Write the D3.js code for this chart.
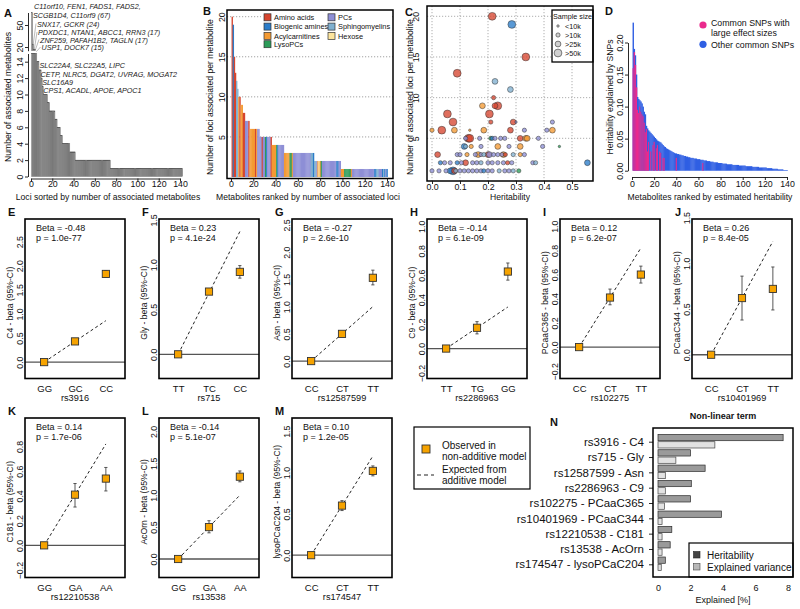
<!DOCTYPE html>
<html><head><meta charset="utf-8">
<script src="https://cdn.jsdelivr.net/npm/d3@7"></script>
<style>body{margin:0;background:#fff}svg{display:block}</style>
</head><body><svg id="c" width="800" height="609"></svg>
<script>
// ---------------- DATA ----------------
// Panel A: number of associated metabolites per locus (sorted)
const aCounts = [67,24,17,17,15,14,14,13,13,12,11,10,10,10,10,9,9,8,8,8,8,8,7,7,6,6,6,5,5,4,4,4,4,4,4,4,3,3,3,3,3,
2,2,2,2,2,2,2,2,2,2,2,
2,2,2,2,2,2,2,2,2,2,2,
2,2,2,2,2,2,2,2,2,2,2,
1,1,1,1,1,1,1,1,1,1,1,1,1,1,1,1,1,
1,1,1,1,1,1,1,1,1,1,1,1,1,1,1,1,1,
1,1,1,1,1,1,1,1,1,1,1,1,1,1,1,1,1,
1,1,1,1,1,1,1,1,1,1,1,1,1,1,1,1,1];
const aUpperLabels = ["C11orf10, FEN1, FADS1, FADS2,","SCGB1D4, C11orf9 (67)","SNX17, GCKR (24)","PDXDC1, NTAN1, ABCC1, RRN3 (17)","ZNF259, PAFAH1B2, TAGLN (17)","USP1, DOCK7 (15)"];
const aLowerLabels = ["SLC22A4, SLC22A5, LIPC","CETP, NLRC5, DGAT2, UVRAG, MOGAT2","SLC16A9","CPS1, ACADL, APOE, APOC1"];
const aXTicks = [0,20,40,60,80,100,120,140];
const aYTicks = [0,2,4,6,8,10,12,14];
const aYTicksUpper = [20,50];

// Panel B: loci per metabolite (ranked) and metabolite class
const bValues = [20,19,15,13,12,11,10,10,9,9,8,8,
7,7,7,7,
6,6,6,6,6,6,6,6,6,
5,5,5,5,5,5,5,5,5,5,5,
4,4,4,4,4,4,4,4,4,4,4,
3,3,3,3,3,3,3,3,3,3,3,3,3,3,3,3,3,3,3,3,3,3,3,3,3,3,3,
2,2,2,2,2,2,2,2,2,2,2,2,2,2,2,2,2,2,2,2,2,2,2,2,
1,1,1,1,1,1,1,1,1,1,1,1,1,1,1,1,1,1,1,1,1,1,1,1,1,1,1,1,1,1,1,1,1,1,1,1,1,1,1,1,1,1];
const bClasses = ["A","B","A","A","S","S","C","A","C","C","A","A",
"P","P","P","A",
"C","C","C","C","C","A","C","P","P",
"P","P","A","P","P","L","B","P","P","P","A",
"C","C","C","C","L","B","P","P","P","P","P",
"C","C","C","C","C","L","L","C","P","P","P","P","P","P","P","P","P","P","P","P","P","P","P","P","S","S","B",
"S","S","P","C","H","C","L","P","P","P","P","P","P","P","P","P","P","P","P","P","B","B","P","P",
"C","C","C","L","L","L","L","L","L","C","P","P","P","P","P","P","P","P","P","P","P","P","P","P","P","P","P","P","P","P","B","B","S","S","P","P","P","B","S","B","P","B"];
const classKeys = ["A","B","C","L","P","S","H"];
const classNames = ["Amino acids","Biogenic amines","Acylcarnitines","LysoPCs","PCs","Sphingomyelins","Hexose"];
const classColors = ["#d6452f","#2a7cc9","#f39a33","#2c9c59","#8e8fd6","#80b0cf","#fde59d"];
const bYTicks = [5,10,15,20];

// Panel C: [heritability, number of loci, class, sample-size category]
const cPoints = [
[0.215,20,"A",3],[0.285,19,"B",3],[0.335,15,"A",3],[0.09,13,"A",3],[0.225,12,"S",2],[0.28,11,"S",2],[0.22,10,"A",1],
[0.18,9,"C",2],[0.225,9,"A",2],[0.235,9,"A",3],[0.055,8,"A",3],[0.205,8,"A",3],
[0.075,7,"A",3],[0.21,7,"A",1],[0.29,7,"A",2],[0.30,7,"P",0],[0.43,7,"P",1],
[0.0,6,"C",1],[0.035,6,"A",3],[0.08,6,"C",2],[0.135,6,"C",0],[0.185,6,"C",2],[0.28,6,"A",2],[0.33,6,"P",1],[0.41,6,"P",1],[0.43,6,"C",2],
[0.12,5,"P",1],[0.13,5,"A",3],[0.135,5,"A",3],[0.17,5,"P",1],[0.21,5,"L",1],[0.215,5,"B",1],[0.225,5,"P",1],[0.245,5,"P",1],[0.26,5,"P",1],[0.315,5,"A",2],[0.335,5,"C",2],[0.34,5,"C",2],[0.38,5,"P",1],
[0.115,4,"B",2],[0.12,4,"S",1],[0.14,4,"C",1],[0.175,4,"P",1],[0.235,4,"C",2],[0.275,4,"P",1],[0.315,4,"C",2],[0.395,4,"P",1],[0.455,4,"L",0],
[0.02,3,"A",2],[0.09,3,"P",1],[0.10,3,"P",1],[0.125,3,"C",1],[0.155,3,"P",1],[0.165,3,"C",2],[0.175,3,"P",1],[0.185,3,"S",1],[0.20,3,"A",2],[0.205,3,"P",2],[0.22,3,"P",1],[0.235,3,"P",1],[0.25,3,"P",1],[0.255,3,"C",2],[0.262,3,"A",1],[0.29,3,"S",1],[0.315,3,"C",1],[0.33,3,"P",1],
[0.03,2,"B",1],[0.045,2,"P",1],[0.065,2,"P",1],[0.09,2,"B",1],[0.105,2,"P",1],[0.12,2,"A",2],[0.145,2,"P",1],[0.16,2,"P",1],[0.175,2,"S",1],[0.20,2,"P",1],[0.215,2,"P",1],[0.235,2,"P",1],[0.255,2,"P",1],[0.27,2,"A",1],[0.285,2,"P",1],[0.36,2,"P",1],[0.37,2,"S",1],[0.555,2,"B",2],
[0.0,1,"P",1],[0.025,1,"P",1],[0.05,1,"P",1],[0.065,1,"B",2],[0.075,1,"B",3],[0.08,1,"A",2],[0.085,1,"S",1],[0.10,1,"P",1],[0.115,1,"P",1],[0.13,1,"P",1],[0.145,1,"P",1],[0.16,1,"P",1],[0.175,1,"P",1],[0.185,1,"B",1],[0.20,1,"P",1],[0.215,1,"P",1],[0.24,1,"S",1],[0.26,1,"P",1],[0.275,1,"P",1],[0.29,1,"S",1],[0.31,1,"L",1]
];
const cSizeLabels = ["<10k",">10k",">25k",">50k"];
const cXTicks = [0,0.1,0.2,0.3,0.4,0.5];
const cYTicks = [5,10,15,20];

// Panel D: heritability explained by SNPs (total and large-effect part)
const dTotal = [0.231,0.190,0.180,0.150,0.115,0.112,0.110,0.108,0.105,0.100,
0.092,0.088,0.070,0.066,0.063,0.061,0.059,0.057,0.055,0.053,
0.051,0.049,0.047,0.046,0.045,0.044,0.042,0.040,0.038,0.037,
0.035,0.034,0.033,0.032,0.031,0.030,0.029,0.028,0.027,0.027,
0.026,0.026,0.025,0.025,0.024,0.024,0.023,0.023,0.022,0.022,
0.021,0.021,0.020,0.020,0.020,0.019,0.019,0.019,0.018,0.018,
0.018,0.017,0.017,0.017,0.016,0.016,0.016,0.015,0.015,0.015,
0.014,0.014,0.014,0.013,0.013,0.013,0.013,0.012,0.012,0.012,
0.012,0.011,0.011,0.011,0.011,0.010,0.010,0.010,0.010,0.010,
0.009,0.009,0.009,0.009,0.009,0.009,0.008,0.008,0.008,0.008,
0.008,0.008,0.007,0.007,0.007,0.007,0.007,0.007,0.006,0.006,
0.006,0.006,0.006,0.006,0.005,0.005,0.005,0.005,0.005,0.005,
0.005,0.004,0.004,0.004,0.004,0.004,0.003,0.003,0.003,0.003,
0.003,0.002,0.002,0.002,0.002,0.002,0.001,0.001,0.001,0.001];
const dLarge = [0.160,0.185,0.165,0.130,0.095,0.090,0.100,0.092,0.088,0.085,
0.075,0.060,0.065,0.030,0.045,0,0.030,0,0.040,0.045,
0,0.035,0.040,0,0.030,0.028,0,0.020,0.020,0,
0,0,0,0,0,0,0,0,0,0.020,
0,0,0,0,0,0,0,0,0,0,
0,0,0,0,0,0,0,0,0,0,
0,0,0,0.012,0,0,0,0,0,0,
0,0,0,0,0,0,0,0,0,0,0,0,0,0,0,0,0,0,0,0,
0,0,0,0,0,0,0,0,0,0,0,0,0,0,0,0,0,0,0,0,
0,0,0,0,0,0,0,0,0,0,0,0,0,0,0,0,0,0,0,0,
0,0,0,0,0,0,0,0,0,0];
const dXTicks = [0,20,40,60,80,100,120,140];
const dYTicks = [0,0.05,0.10,0.15,0.20];

// Panels E-M: non-additive effects
const nlMetab = ["C4","Gly","Asn","C9","PCaaC365","PCaaC344","C181","AcOrn","lysoPCaC204"];
const nlSnp = ["rs3916","rs715","rs12587599","rs2286963","rs102275","rs10401969","rs12210538","rs13538","rs174547"];
const nlGeno = [["GG","GC","CC"],["TT","TC","CC"],["CC","CT","TT"],["TT","TG","GG"],["CC","CT","TT"],["CC","CT","TT"],["GG","GA","AA"],["GG","GA","AA"],["CC","CT","TT"]];
const nlObs = [[0,0.43,1.83],[0,0.70,0.92],[0,0.50,1.53],[0,0.17,0.63],[0,0.41,0.60],[0,0.62,0.72],[0,0.41,0.54],[0,0.50,1.29],[0,0.60,1.02]];
const nlLo  = [[0,0.40,1.77],[0,0.67,0.85],[0,0.46,1.40],[0,0.12,0.56],[0,0.35,0.53],[0,0.38,0.49],[0,0.31,0.44],[0,0.41,1.21],[0,0.54,0.96]];
const nlHi  = [[0,0.46,1.90],[0,0.73,0.99],[0,0.54,1.67],[0,0.22,0.70],[0,0.48,0.67],[0,0.86,0.96],[0,0.50,0.63],[0,0.60,1.38],[0,0.66,1.08]];
const nlExp = [0.86,1.37,1.00,0.34,0.82,1.24,0.82,1.00,1.20];
const nlBeta = ["-0.48","0.23","-0.27","-0.14","0.12","0.26","0.14","-0.14","0.10"];
const nlP = ["1.0e-77","4.1e-24","2.6e-10","6.1e-09","6.2e-07","8.4e-05","1.7e-06","5.1e-07","1.2e-05"];
const nlTicks = [[0,0.5,1,1.5,2,2.5],[0,0.5,1,1.5],[0,0.5,1,1.5,2,2.5],[-0.2,0,0.2,0.4,0.6,0.8,1.0],[-0.2,0,0.2,0.4,0.6,0.8,1.0],[0,0.5,1,1.5],[-0.2,0,0.2,0.4,0.6,0.8],[0,0.5,1,1.5,2],[0,0.5,1,1.5]];
const nlYDom = [[-0.34,2.97],[-0.27,1.51],[-0.32,2.61],[-0.245,1.06],[-0.26,1.06],[-0.26,1.485],[-0.26,1.03],[-0.29,2.21],[-0.27,1.66]];

// Panel N
const nHerit = [7.7,2.0,2.9,2.05,2.0,3.9,0.85,0.75,0.45];
const nExplained = [3.5,1.1,0.45,0.45,0.4,0.25,0.25,0.25,0.2];
const nXTicks = [0,2,4,6,8];

// ---------------- DRAWING ----------------
const FONT = "'Liberation Sans', Arial, Helvetica, sans-serif";
const svg = d3.select("#c").attr("font-family", FONT);
const colorOf = d3.scaleOrdinal().domain(classKeys).range(classColors);
const TITLE = 8.6, TICK = 8.8;

function txt(g, x, y, s, o = {}) {
  const t = g.append("text").attr("x", x).attr("y", y).text(s)
    .attr("font-size", o.size || 9).attr("text-anchor", o.anchor || "start")
    .attr("fill", o.fill || "#111");
  if (o.rotate) t.attr("transform", `rotate(-90,${x},${y})`).attr("dy", "0.35em");
  if (o.bold) t.attr("font-weight", "bold");
  if (o.italic) t.attr("font-style", "italic");
  return t;
}
function styleAxis(a, size) {
  a.attr("font-family", FONT).attr("font-size", size);
  a.selectAll("line,path").attr("stroke", "#111").attr("stroke-width", 0.9);
  a.selectAll("text").attr("fill", "#111");
}
function yAxisRot(g, scale, x, ticks, fmt, size, off, tickLen, keepDomain) {
  const ax = d3.axisLeft(scale).tickValues(ticks).tickSize(tickLen).tickSizeOuter(0).tickFormat(fmt);
  const a = g.append("g").attr("transform", `translate(${x},0)`).call(ax);
  styleAxis(a, size);
  if (!keepDomain) a.select(".domain").remove();
  a.selectAll("text").attr("x", null).attr("dy", null).attr("text-anchor", "middle")
    .attr("transform", `translate(${-off},0) rotate(-90)`);
  return a;
}
function xAxis(g, scale, y, ticks, fmt, size, tickLen, labelY, keepDomain) {
  const ax = d3.axisBottom(scale).tickValues(ticks).tickSize(tickLen).tickSizeOuter(0).tickFormat(fmt);
  const a = g.append("g").attr("transform", `translate(0,${y})`).call(ax);
  styleAxis(a, size);
  if (!keepDomain) a.select(".domain").remove();
  a.selectAll("text").attr("dy", null).attr("y", labelY);
  return a;
}
const fInt = d3.format("d");

// ===== Panel A =====
{
  const g = svg.append("g");
  const x = d3.scaleLinear().domain([0, 140]).range([31, 180]);
  const y = d3.scaleLinear().domain([0, 15]).range([176.5, 53.5]);
  const yU = d3.scaleLinear().domain([15, 67]).range([50.7, 12.5]);
  aCounts.forEach((v, i) => {
    const k = i + 1;
    const x0 = x(k - 0.5), w = x(k + 0.5) - x(k - 0.5);
    g.append("rect").attr("x", x0).attr("width", w).attr("y", y(Math.min(v, 15)))
      .attr("height", y(0) - y(Math.min(v, 15))).attr("fill", "#a4a4a4").attr("stroke", "#4a4a4a").attr("stroke-width", 0.35);
    if (v > 15) {
      g.append("rect").attr("x", x0).attr("width", w).attr("y", yU(v))
        .attr("height", yU(15) - yU(v)).attr("fill", "#a4a4a4").attr("stroke", "#4a4a4a").attr("stroke-width", 0.35);
    }
  });
  xAxis(g, x, 178.5, aXTicks, fInt, TICK, 3, 8.5, true);
  yAxisRot(g, y, 28, aYTicks, fInt, TICK, 5, 3, true);
  yAxisRot(g, yU, 28, aYTicksUpper, fInt, TICK, 5, 3, true);
  const upX = [34, 33, 37, 38, 40, 41.5], upY = [8.7, 17.5, 26.5, 35, 42.5, 50];
  aUpperLabels.forEach((s, i) => txt(g, upX[i], upY[i], s, { size: 7.2, italic: true, fill: "#222" }));
  const upTarget = [1, 2, 3, 4, 5];
  [1, 2, 3, 4, 5].forEach((li, j) => {
    const k = upTarget[j];
    g.append("line").attr("x1", upX[li] - 1).attr("y1", upY[li] - 3).attr("x2", x(k)).attr("y2", yU(Math.min(aCounts[k - 1], 67)) + 1)
      .attr("stroke", "#777").attr("stroke-width", 0.5);
  });
  const loX = [39.5, 40.5, 42.3, 43.3], loY = [68, 76.5, 85, 92.5];
  aLowerLabels.forEach((s, i) => txt(g, loX[i], loY[i], s, { size: 7.2, italic: true, fill: "#222" }));
  [6, 8, 10, 12].forEach((k, j) => {
    g.append("line").attr("x1", loX[j] - 1).attr("y1", loY[j] - 3).attr("x2", x(k)).attr("y2", y(aCounts[k - 1]))
      .attr("stroke", "#777").attr("stroke-width", 0.5);
  });
  txt(g, 4, 16.5, "A", { size: 11, bold: true });
  txt(g, 108, 200, "Loci sorted by number of associated metabolites", { size: TITLE, anchor: "middle" });
  txt(g, 8, 97, "Number of associated metabolites", { size: TITLE, anchor: "middle", rotate: true });
}

// ===== Panel B =====
{
  const g = svg.append("g");
  const L = 227, R = 393, T = 10, B = 178.5;
  const x = d3.scaleLinear().domain([0, 140]).range([231, 387]);
  const y = d3.scaleLinear().domain([0, 20]).range([177, 16.7]);
  bYTicks.forEach(v => g.append("line").attr("x1", L).attr("x2", R).attr("y1", y(v)).attr("y2", y(v))
    .attr("stroke", "#8a8a8a").attr("stroke-width", 0.8).attr("stroke-dasharray", "1.2,1.8"));
  bValues.forEach((v, i) => {
    const k = i + 1;
    g.append("rect").attr("x", x(k - 0.5)).attr("width", x(k + 0.5) - x(k - 0.5) + 0.25)
      .attr("y", y(v)).attr("height", y(0) - y(v)).attr("fill", colorOf(bClasses[i]));
  });
  g.append("rect").attr("x", 261).attr("y", 11).attr("width", 130).attr("height", 38).attr("fill", "#fff");
  const legPos = [[264, 17.3], [264, 26.6], [264, 35.9], [264, 44.2], [328, 17.3], [328, 26.6], [328, 35.9]];
  classKeys.forEach((k, i) => {
    const [lx, ly] = legPos[i];
    g.append("rect").attr("x", lx).attr("y", ly - 3.5).attr("width", 7).attr("height", 7)
      .attr("fill", colorOf(k)).attr("stroke", "#333").attr("stroke-width", 0.7);
    txt(g, lx + 10, ly + 2.8, classNames[i], { size: 7.4 });
  });
  g.append("rect").attr("x", L).attr("y", T).attr("width", R - L).attr("height", B - T)
    .attr("fill", "none").attr("stroke", "#000").attr("stroke-width", 1.5);
  xAxis(g, x, B, aXTicks, fInt, TICK, 3, 8.5, false);
  yAxisRot(g, y, L, bYTicks, fInt, TICK, 2, 0, false);
  txt(g, 203, 14.5, "B", { size: 11, bold: true });
  txt(g, 308, 200, "Metabolites ranked by number of associated loci", { size: TITLE, anchor: "middle" });
  txt(g, 210, 97, "Number of loci associated per metabolite", { size: TITLE, anchor: "middle", rotate: true });
}

// ===== Panel C =====
{
  const g = svg.append("g");
  const L = 427, R = 593, T = 6, B = 181;
  const x = d3.scaleLinear().domain([0, 0.5]).range([432, 572]);
  const y = d3.scaleLinear().domain([0, 20]).range([179, 16.3]);
  const r = d3.scaleOrdinal().domain([0, 1, 2, 3]).range([1.2, 2.1, 2.9, 3.9]);
  cXTicks.forEach(v => g.append("line").attr("x1", x(v)).attr("x2", x(v)).attr("y1", T).attr("y2", B)
    .attr("stroke", "#999").attr("stroke-width", 0.8).attr("stroke-dasharray", "1.2,1.8"));
  cYTicks.forEach(v => g.append("line").attr("x1", L).attr("x2", R).attr("y1", y(v)).attr("y2", y(v))
    .attr("stroke", "#999").attr("stroke-width", 0.8).attr("stroke-dasharray", "1.2,1.8"));
  const pts = cPoints.slice().sort((a, b) => b[3] - a[3]);
  g.selectAll("circle.pt").data(pts).join("circle").attr("class", "pt")
    .attr("cx", d => x(d[0])).attr("cy", d => y(d[1])).attr("r", d => r(d[3]))
    .attr("fill", d => colorOf(d[2])).attr("fill-opacity", 0.78)
    .attr("stroke", "#333").attr("stroke-width", 0.5);
  g.append("rect").attr("x", 552).attr("y", 10).attr("width", 41).attr("height", 52)
    .attr("fill", "#fff").attr("stroke", "#000").attr("stroke-width", 1.3);
  txt(g, 572.5, 18.5, "Sample size", { size: 7.2, anchor: "middle" });
  cSizeLabels.forEach((s, i) => {
    const ly = 26 + i * 9;
    g.append("circle").attr("cx", 558).attr("cy", ly).attr("r", r(i)).attr("fill", "#d0d0d0").attr("stroke", "#333").attr("stroke-width", 0.6);
    txt(g, 565, ly + 2.6, s, { size: 7.2 });
  });
  g.append("rect").attr("x", L).attr("y", T).attr("width", R - L).attr("height", B - T)
    .attr("fill", "none").attr("stroke", "#000").attr("stroke-width", 1.5);
  xAxis(g, x, B, cXTicks, d3.format(".1f"), TICK, 3, 9, false);
  yAxisRot(g, y, L, cYTicks, fInt, TICK, 8.5, 0, false);
  txt(g, 405, 15.5, "C", { size: 11, bold: true });
  txt(g, 510, 200, "Heritability", { size: TITLE, anchor: "middle" });
  txt(g, 410, 97, "Number of associated loci per metabolite", { size: TITLE, anchor: "middle", rotate: true });
}

// ===== Panel D =====
{
  const g = svg.append("g");
  const x = d3.scaleLinear().domain([0, 140]).range([632, 787]);
  const y = d3.scaleLinear().domain([0, 0.2]).range([170.7, 42.5]);
  dTotal.forEach((v, i) => {
    const k = i + 1;
    g.append("rect").attr("x", x(k - 0.5)).attr("width", x(k + 0.5) - x(k - 0.5) + 0.3)
      .attr("y", y(v)).attr("height", y(0) - y(v)).attr("fill", "#2f5fe3");
    if (dLarge[i] > 0) {
      g.append("rect").attr("x", x(k - 0.5)).attr("width", x(k + 0.5) - x(k - 0.5) + 0.3)
        .attr("y", y(dLarge[i])).attr("height", y(0) - y(dLarge[i])).attr("fill", "#ea2a8d");
    }
  });
  xAxis(g, x, 177, dXTicks, fInt, TICK, 3, 9.5, true);
  yAxisRot(g, y, 628, dYTicks, d3.format(".2f"), TICK, 5, 3, true);
  g.append("circle").attr("cx", 703).attr("cy", 25).attr("r", 3.6).attr("fill", "#ea2a8d");
  txt(g, 711, 26, "Common SNPs with", { size: 8.8 });
  txt(g, 711, 35.7, "large effect sizes", { size: 8.8 });
  g.append("circle").attr("cx", 703).attr("cy", 44.3).attr("r", 3.6).attr("fill", "#2f5fe3");
  txt(g, 711, 47.7, "Other common SNPs", { size: 8.8 });
  txt(g, 605, 14.5, "D", { size: 11, bold: true });
  txt(g, 710, 200, "Metabolites ranked by estimated heritability", { size: TITLE, anchor: "middle" });
  txt(g, 610, 97, "Heritability explained by SNPs", { size: TITLE, anchor: "middle", rotate: true });
}

// ===== Panels E-M =====
{
  const lefts = [25, 159, 292, 427, 560, 692, 25, 159, 292];
  const tops = [219, 219, 219, 219, 219, 219, 418, 418, 418];
  const letters = ["E", "F", "G", "H", "I", "J", "K", "L", "M"];
  const W = 100, H = 159.5;
  nlMetab.forEach((m, i) => {
    const L = lefts[i], T = tops[i];
    const g = svg.append("g");
    const x = d3.scalePoint().domain(nlGeno[i]).range([L, L + W]).padding(0.62);
    const y = d3.scaleLinear().domain(nlYDom[i]).range([T + H, T]);
    g.append("line").attr("x1", L).attr("x2", L + W).attr("y1", y(0)).attr("y2", y(0))
      .attr("stroke", "#555").attr("stroke-width", 1.3);
    g.append("line").attr("x1", x(nlGeno[i][0])).attr("y1", y(0)).attr("x2", x(nlGeno[i][2])).attr("y2", y(nlExp[i]))
      .attr("stroke", "#222").attr("stroke-width", 1).attr("stroke-dasharray", "3,2.6");
    nlGeno[i].forEach((gt, j) => {
      if (nlHi[i][j] > nlLo[i][j]) {
        const cx = x(gt);
        g.append("line").attr("x1", cx).attr("x2", cx).attr("y1", y(nlLo[i][j])).attr("y2", y(nlHi[i][j])).attr("stroke", "#444").attr("stroke-width", 0.9);
        [nlLo[i][j], nlHi[i][j]].forEach(v => g.append("line").attr("x1", cx - 1.6).attr("x2", cx + 1.6).attr("y1", y(v)).attr("y2", y(v)).attr("stroke", "#444").attr("stroke-width", 0.9));
      }
    });
    g.selectAll("rect.obs").data(nlGeno[i]).join("rect").attr("class", "obs")
      .attr("x", d => x(d) - 3.6).attr("y", (d, j) => y(nlObs[i][j]) - 3.6).attr("width", 7.2).attr("height", 7.2)
      .attr("fill", "#f6a300").attr("stroke", "#333").attr("stroke-width", 0.9);
    g.append("rect").attr("x", L).attr("y", T).attr("width", W).attr("height", H)
      .attr("fill", "none").attr("stroke", "#000").attr("stroke-width", 1.6);
    yAxisRot(g, y, L, nlTicks[i], d3.format(".1f"), 8.8, 2, 0, false);
    xAxis(g, x, T + H, nlGeno[i], d => d, 9.5, 0, 13, false);
    txt(g, L + W / 2, T + H + 22.5, nlSnp[i], { size: 9.2, anchor: "middle" });
    txt(g, L + 11, T + 11.5, "Beta = " + nlBeta[i], { size: 9 });
    txt(g, L + 11, T + 21.5, "p = " + nlP[i], { size: 9 });
    txt(g, L - 15.5, T + H / 2 + 4, m + " - beta (95%-CI)", { size: 8.6, anchor: "middle", rotate: true });
    txt(g, L - 17, T - 3.5, letters[i], { size: 11, bold: true });
  });
}

// ===== Legend for E-M =====
{
  const g = svg.append("g");
  g.append("rect").attr("x", 414).attr("y", 427).attr("width", 116).attr("height", 62)
    .attr("fill", "#fff").attr("stroke", "#000").attr("stroke-width", 1.2);
  g.append("rect").attr("x", 422).attr("y", 445).attr("width", 8).attr("height", 8)
    .attr("fill", "#f6a300").attr("stroke", "#333").attr("stroke-width", 0.9);
  txt(g, 442, 448.5, "Observed in", { size: 10 });
  txt(g, 442, 460.3, "non-additive model", { size: 10 });
  g.append("line").attr("x1", 417).attr("x2", 434).attr("y1", 475).attr("y2", 475)
    .attr("stroke", "#222").attr("stroke-width", 1.1).attr("stroke-dasharray", "4,3");
  txt(g, 442, 472.5, "Expected from", { size: 10 });
  txt(g, 442, 484.3, "additive model", { size: 10 });
}

// ===== Panel N =====
{
  const g = svg.append("g");
  const L = 653, R = 793, T = 428, B = 577;
  const labels = nlSnp.map((s, i) => s + " - " + nlMetab[i]);
  const x = d3.scaleLinear().domain([0, 8]).range([658, 788]);
  const y = d3.scalePoint().domain(labels).range([441.7, 564.3]);
  labels.forEach((lab, i) => {
    const c = y(lab);
    g.append("rect").attr("x", x(0)).attr("y", c - 7.3).attr("width", x(nHerit[i]) - x(0)).attr("height", 6.3)
      .attr("fill", "#9a9a9a").attr("stroke", "#2a2a2a").attr("stroke-width", 0.7);
    g.append("rect").attr("x", x(0)).attr("y", c).attr("width", x(nExplained[i]) - x(0)).attr("height", 6.3)
      .attr("fill", "#e2e2e2").attr("stroke", "#444").attr("stroke-width", 0.7);
  });
  const ay = d3.axisLeft(y).tickSize(4).tickPadding(5);
  const a = g.append("g").attr("transform", `translate(${L},0)`).call(ay);
  styleAxis(a, 11.5);
  a.select(".domain").remove();
  g.append("rect").attr("x", 689).attr("y", 543).attr("width", 104).attr("height", 34)
    .attr("fill", "#fff").attr("stroke", "#000").attr("stroke-width", 1.2);
  g.append("rect").attr("x", 693.5).attr("y", 551.5).attr("width", 6.5).attr("height", 6.5).attr("fill", "#444").attr("stroke", "#222").attr("stroke-width", 0.6);
  txt(g, 707, 558.5, "Heritability", { size: 10 });
  g.append("rect").attr("x", 693.5).attr("y", 563.5).attr("width", 6.5).attr("height", 6.5).attr("fill", "#b8b8b8").attr("stroke", "#444").attr("stroke-width", 0.6);
  txt(g, 707, 570.5, "Explained variance", { size: 10 });
  g.append("rect").attr("x", L).attr("y", T).attr("width", R - L).attr("height", B - T)
    .attr("fill", "none").attr("stroke", "#000").attr("stroke-width", 1.5);
  xAxis(g, x, B, nXTicks, fInt, 9, 0, 14, false);
  txt(g, 723, 603, "Explained [%]", { size: 9, anchor: "middle" });
  txt(g, 723, 419, "Non-linear term", { size: 9, anchor: "middle", bold: true });
  txt(g, 550, 425.5, "N", { size: 11, bold: true });
}
</script>
</body></html>
